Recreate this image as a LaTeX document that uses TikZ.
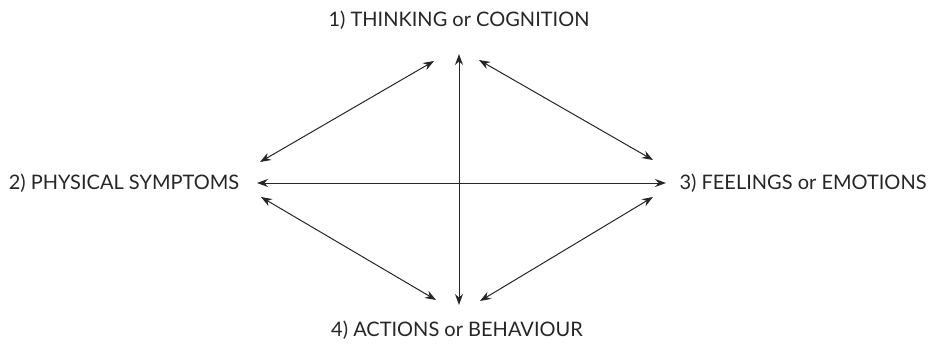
\documentclass[tikz,border=0pt]{standalone}
\usepackage{fontspec}
\setmainfont{Lato}
\usetikzlibrary{arrows.meta}
\begin{document}
\begin{tikzpicture}[x=1pt,y=-1pt,
  label/.style={font=\fontsize{20}{24}\selectfont, text=black!85, inner sep=0pt},
  link/.style={{Stealth[length=11pt,width=8pt]}-{Stealth[length=11pt,width=8pt]}, line width=1pt, black!85}]
  \useasboundingbox (0,0) rectangle (940,351);
  % the four labels
  \node[label] (t1) at (459,20) {1) THINKING or COGNITION};
  \node[label] (t2) at (124,183) {2) PHYSICAL SYMPTOMS};
  \node[label] (t3) at (803,183) {3) FEELINGS or EMOTIONS};
  \node[label] (t4) at (457,330) {4) ACTIONS or BEHAVIOUR};
  % arrow end points
  \coordinate (vt) at (459,54);
  \coordinate (vb) at (459,305);
  \coordinate (hl) at (257,183);
  \coordinate (hr) at (666,183);
  \coordinate (ul1) at (260,162);
  \coordinate (ul2) at (434,61);
  \coordinate (ur1) at (479,60);
  \coordinate (ur2) at (653,160);
  \coordinate (ll1) at (261,197);
  \coordinate (ll2) at (436,300);
  \coordinate (lr1) at (480,301);
  \coordinate (lr2) at (653,197);
  % connectors
  \draw[link] (vt) -- (vb);
  \draw[link] (hl) -- (hr);
  \draw[link] (ul1) -- (ul2);
  \draw[link] (ur1) -- (ur2);
  \draw[link] (ll1) -- (ll2);
  \draw[link] (lr1) -- (lr2);
\end{tikzpicture}
\end{document}
